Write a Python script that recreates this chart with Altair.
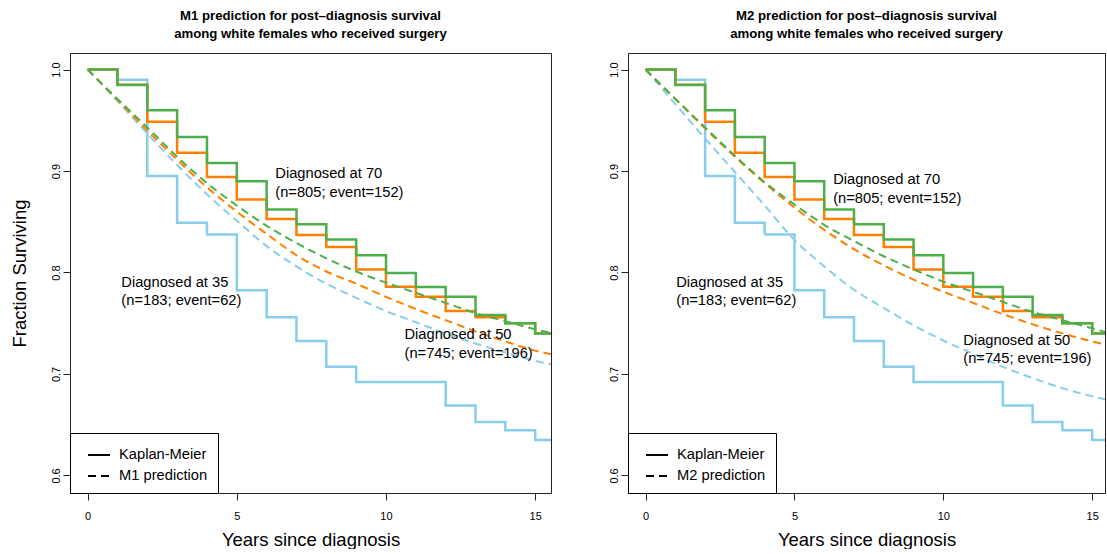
import altair as alt
import pandas as pd

FONT = "Liberation Sans"

ages = ["Diagnosed at 35", "Diagnosed at 50", "Diagnosed at 70"]
colors = ["#87CEEB", "#FF7F00", "#4DAF4A"]

# Kaplan-Meier step values (value holds from time t until next time)
km_time = [0, 1, 2, 3, 4, 5, 6, 7, 8, 9, 10, 11, 12, 13, 14, 15, 15.6]
km_35 = [1.0, 0.990, 0.895, 0.849, 0.8375, 0.7825, 0.756, 0.7326, 0.707, 0.692,
         0.692, 0.692, 0.669, 0.6527, 0.6445, 0.635, 0.635]
km_50 = [1.0, 0.985, 0.9485, 0.918, 0.894, 0.872, 0.8526, 0.837, 0.825, 0.803,
         0.786, 0.776, 0.762, 0.756, 0.750, 0.740, 0.740]
km_70 = [1.0, 0.9847, 0.960, 0.9334, 0.9078, 0.890, 0.862, 0.8476, 0.8325, 0.817,
         0.7996, 0.7858, 0.776, 0.758, 0.750, 0.740, 0.740]

# Model predictions
pred_time = [0, 1, 2, 3, 4, 5, 6, 7, 8, 9, 10, 11, 12, 13, 14, 15, 15.6]
m1_35 = [1.0, 0.969, 0.937, 0.906, 0.877, 0.851, 0.826, 0.806, 0.789, 0.775,
         0.762, 0.751, 0.740, 0.730, 0.721, 0.713, 0.709]
m1_50 = [1.0, 0.970, 0.940, 0.911, 0.884, 0.860, 0.838, 0.817, 0.801, 0.789,
         0.776, 0.764, 0.753, 0.742, 0.732, 0.723, 0.719]
m1_70 = [1.0, 0.971, 0.943, 0.914, 0.888, 0.866, 0.846, 0.829, 0.814, 0.801,
         0.790, 0.780, 0.770, 0.760, 0.752, 0.744, 0.740]
m2_35 = [1.0, 0.966, 0.932, 0.899, 0.866, 0.832, 0.806, 0.783, 0.765, 0.748,
         0.733, 0.720, 0.707, 0.696, 0.686, 0.678, 0.674]
m2_50 = [1.0, 0.971, 0.942, 0.914, 0.888, 0.864, 0.842, 0.823, 0.807, 0.793,
         0.781, 0.770, 0.759, 0.749, 0.740, 0.732, 0.728]
m2_70 = [1.0, 0.971, 0.943, 0.915, 0.889, 0.867, 0.847, 0.831, 0.816, 0.803,
         0.791, 0.781, 0.771, 0.761, 0.753, 0.745, 0.740]

label_lines = [["Diagnosed at 35", "(n=183; event=62)"],
               ["Diagnosed at 50", "(n=745; event=196)"],
               ["Diagnosed at 70", "(n=805; event=152)"]]
m1_label_x = [1.13, 10.62, 6.29]
m1_label_y = [0.790, 0.738, 0.897]
m2_label_x = [1.03, 10.67, 6.30]
m2_label_y = [0.790, 0.7325, 0.891]
line_gap = 0.0182

titles = {
    "M1": ["M1 prediction for post\u2013diagnosis survival",
           "among white females who received surgery"],
    "M2": ["M2 prediction for post\u2013diagnosis survival",
           "among white females who received surgery"],
}

Y_DOMAIN = [0.5827, 1.0163]
Y_TICKS = [0.6, 0.7, 0.8, 0.9, 1.0]
X_TICKS = [0, 5, 10, 15]


def panel(model, preds, lab_x, lab_y, width, xmax, ytitle):
    km_vals = [km_35, km_50, km_70]
    km_rows, pred_rows, txt_rows = [], [], []
    for a, vals in zip(ages, km_vals):
        for t, s in zip(km_time, vals):
            km_rows.append({"time": t, "surv": s, "age": a, "kind": "Kaplan-Meier"})
    pkind = f"{model} prediction"
    for a, vals in zip(ages, preds):
        for t, s in zip(pred_time, vals):
            pred_rows.append({"time": t, "surv": s, "age": a, "kind": pkind})
    for lines, tx, ty in zip(label_lines, lab_x, lab_y):
        for i, ln in enumerate(lines):
            txt_rows.append({"tx": tx, "ty": ty - i * line_gap, "label": ln})

    xs = alt.Scale(domain=[-0.59, xmax], nice=False, zero=False)
    ys = alt.Scale(domain=Y_DOMAIN, nice=False, zero=False)
    xaxis = alt.Axis(values=X_TICKS, title="Years since diagnosis", titleFontSize=18.5,
                     titleFontWeight="normal", labelFontSize=11, tickSize=7,
                     labelPadding=10, titlePadding=9, grid=False, domain=False,
                     tickColor="#222", labelColor="black", titleColor="black",
                     labelFont=FONT, titleFont=FONT)
    yaxis_kw = dict(values=Y_TICKS, format=".1f", labelAngle=270, labelAlign="center",
                    labelBaseline="bottom", labelFontSize=11, tickSize=7,
                    labelPadding=2, grid=False, domain=False, tickColor="#222",
                    labelColor="black", labelFont=FONT)
    if ytitle:
        yaxis = alt.Axis(title="Fraction Surviving", titleFontSize=18.5,
                         titleFontWeight="normal", titlePadding=21, titleColor="black",
                         titleFont=FONT, **yaxis_kw)
    else:
        yaxis = alt.Axis(title=None, **yaxis_kw)

    color = alt.Color("age:N", scale=alt.Scale(domain=ages, range=colors), legend=None)
    dash = alt.StrokeDash(
        "kind:N",
        scale=alt.Scale(domain=["Kaplan-Meier", pkind], range=[[1, 0], [8, 5]]),
        legend=alt.Legend(title=None, orient="bottom-left", offset=0,
                          strokeColor="black", fillColor="white", padding=10,
                          labelFontSize=14.7, labelFont=FONT, labelColor="black",
                          symbolType="stroke", symbolSize=484, symbolStrokeWidth=2,
                          symbolStrokeColor="black", rowPadding=2, labelOffset=8,
                          symbolOffset=7, cornerRadius=0),
    )

    km = alt.Chart(pd.DataFrame(km_rows)).mark_line(
        interpolate="step-after", strokeWidth=2.5, clip=True
    ).encode(
        x=alt.X("time:Q", scale=xs, axis=xaxis),
        y=alt.Y("surv:Q", scale=ys, axis=yaxis),
        color=color, strokeDash=dash, detail="age:N",
    )
    pr = alt.Chart(pd.DataFrame(pred_rows)).mark_line(
        interpolate="monotone", strokeWidth=2, clip=True
    ).encode(
        x=alt.X("time:Q", scale=xs, axis=xaxis),
        y=alt.Y("surv:Q", scale=ys, axis=yaxis),
        color=color, strokeDash=dash, detail="age:N",
    )
    tx = alt.Chart(pd.DataFrame(txt_rows)).mark_text(
        align="left", baseline="middle", fontSize=14.7, font=FONT, color="black"
    ).encode(
        x=alt.X("tx:Q", scale=xs, axis=xaxis),
        y=alt.Y("ty:Q", scale=ys, axis=yaxis),
        text="label:N",
    )
    return alt.layer(km, pr, tx).properties(
        width=width, height=440,
        title=alt.TitleParams(text=titles[model], fontSize=13.2, fontWeight="bold",
                              font=FONT, anchor="middle", lineHeight=18, offset=12,
                              color="black"),
    )


left = panel("M1", [m1_35, m1_50, m1_70], m1_label_x, m1_label_y, 481, 15.53, True)
right = panel("M2", [m2_35, m2_50, m2_70], m2_label_x, m2_label_y, 477, 15.43, False)

chart = alt.hconcat(left, right, spacing=77, bounds="flush").resolve_scale(
    x="independent", y="independent", strokeDash="independent", color="shared"
).resolve_legend(strokeDash="independent").properties(
    padding={"left": 9, "top": 8, "right": 0, "bottom": 0}
).configure_view(stroke="#222", strokeWidth=1)

chart.save("out.html", embed_options={"renderer": "svg", "actions": False})
